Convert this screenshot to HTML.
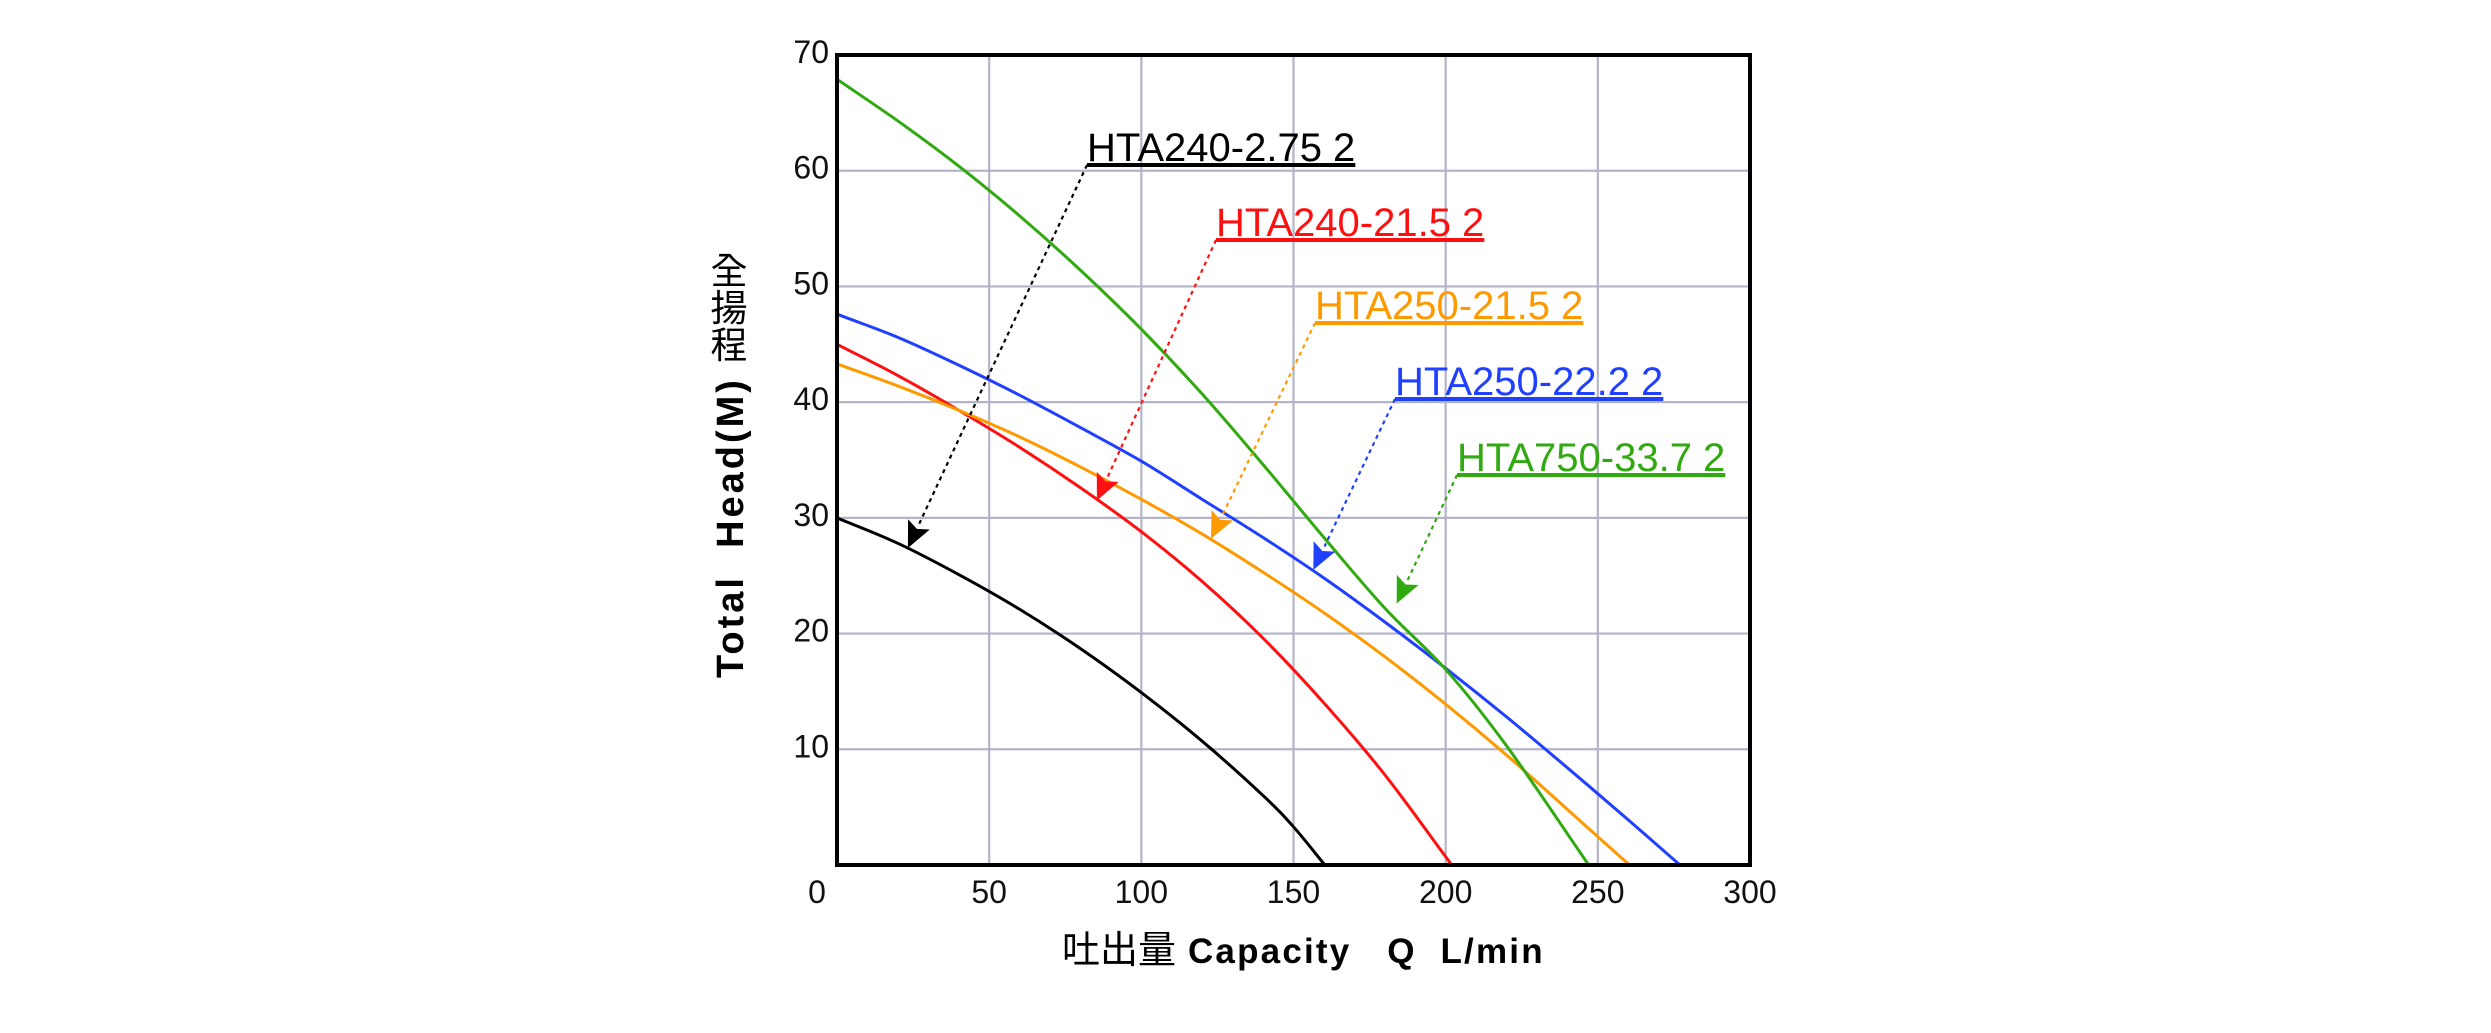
<!DOCTYPE html>
<html><head><meta charset="utf-8"><style>
html,body{margin:0;padding:0;background:#fff;}
svg{display:block;}
text{font-family:"Liberation Sans","Noto Sans CJK TC",sans-serif;}
</style></head><body>
<svg id="chart" width="2491" height="1033" viewBox="0 0 2491 1033" xmlns="http://www.w3.org/2000/svg">
<g id="grid"></g>
<g id="curves"></g>
<g id="labels"></g>
<rect x="837" y="55" width="913" height="810" fill="none" stroke="#000" stroke-width="4"/>
<g id="ticks"></g>
<text x="743" y="678" transform="rotate(-90 743 678)" font-size="38" font-weight="bold" letter-spacing="3" fill="#000" xml:space="preserve">Total  Head(M)</text>
<g font-family="'Noto Sans CJK TC',sans-serif" font-size="37" text-anchor="middle" fill="#000">
<text x="729" y="284">全</text><text x="729" y="321">揚</text><text x="729" y="358">程</text>
</g>
<text x="1062" y="963" font-size="35" fill="#000" xml:space="preserve"><tspan font-family="'Noto Sans CJK TC',sans-serif" font-size="38">吐出量</tspan><tspan font-weight="bold" letter-spacing="2.2"> Capacity   Q  L/min</tspan></text>
</svg>
<script>
const xTicks=[0,50,100,150,200,250,300];
const yTicks=[10,20,30,40,50,60,70];
const seriesNames=["HTA240-2.75 2","HTA240-21.5 2","HTA250-21.5 2","HTA250-22.2 2","HTA750-33.7 2"];
const blackQ=[0,20,40,60,80,100,120,140,150,160.3];
const blackH=[30,27.8,25.1,22.1,18.7,14.9,10.7,6.0,3.3,0];
const redQ=[0,20,40,60,80,100,120,140,160,180,202];
const redH=[45,42.3,39.3,36.1,32.6,28.8,24.5,19.6,14,7.8,0];
const orangeQ=[0,20,40,60,80,100,120,140,160,180,200,220,240,260.4];
const orangeH=[43.3,41.4,39.3,37,34.4,31.6,28.6,25.3,21.8,18,13.9,9.5,4.8,0];
const blueQ=[0,20,40,60,80,100,120,140,160,180,200,220,240,260,277];
const blueH=[47.6,45.6,43.2,40.6,37.8,34.9,31.6,28.3,24.8,21,17,12.8,8.4,3.9,0];
const greenQ=[0,20,40,60,80,100,120,140,160,180,200,220,247];
const greenH=[67.9,64.3,60.4,56.1,51.4,46.3,40.7,34.6,28.3,22.2,16.9,10.3,0];
// arrow target points on each curve (Q, H)
const arrowQ=[23.3,85.4,122.9,156.5,183.9];
const arrowH=[27.4,31.5,28.2,25.5,22.6];
const X0=837,X1=1750,Y0=865,Y1=55;
const sx=q=>X0+(X1-X0)*q/300;
const sy=h=>Y0-(Y0-Y1)*h/70;
const NS="http://www.w3.org/2000/svg";
function mk(t,a,p){const e=document.createElementNS(NS,t);for(const k in a)e.setAttribute(k,a[k]);p.appendChild(e);return e;}
const grid=document.getElementById('grid'),ticks=document.getElementById('ticks');
xTicks.forEach(q=>{if(q>0&&q<300){const l=mk('line',{x1:sx(q),x2:sx(q),y1:Y1,y2:Y0,stroke:'#b4b4c8','stroke-width':2.2},grid);

}
const t=mk('text',{x:q===0?817:sx(q),y:903,'font-size':32,'text-anchor':'middle',fill:'#111'},ticks);t.textContent=q;

});
yTicks.forEach(h=>{if(h<70){const l=mk('line',{x1:X0,x2:X1,y1:sy(h),y2:sy(h),stroke:'#b4b4c8','stroke-width':2.2},grid);

}
const t=mk('text',{x:829,y:sy(h)+8,'font-size':32,'text-anchor':'end',fill:'#111'},ticks);t.textContent=h;

});
function pathD(Q,H){const p=Q.map((q,i)=>[sx(q),sy(H[i])]);let d='M'+p[0][0]+','+p[0][1];
for(let i=0;i<p.length-1;i++){const b=p[i],c=p[i+1];
const a=i>0?p[i-1]:[2*b[0]-c[0],2*b[1]-c[1]];
const e=i+2<p.length?p[i+2]:[2*c[0]-b[0],2*c[1]-b[1]];
d+=' C'+(b[0]+(c[0]-a[0])/6)+','+(b[1]+(c[1]-a[1])/6)+' '+(c[0]-(e[0]-b[0])/6)+','+(c[1]-(e[1]-b[1])/6)+' '+c[0]+','+c[1];}return d;}
const colors=['#000000','#ff1010','#ff9900','#2040ff','#30aa10'];
const data=[[blackQ,blackH],[redQ,redH],[orangeQ,orangeH],[blueQ,blueH],[greenQ,greenH]];
const curves=document.getElementById('curves'),labels=document.getElementById('labels');
const labelPos=[[1087,161],[1216,236],[1315,319],[1395,395],[1457,471]];
const slugs=['hta240-2-75','hta240-21-5','hta250-21-5','hta250-22-2','hta750-33-7'];
data.forEach((s,i)=>{const p=mk('path',{d:pathD(s[0],s[1]),fill:'none',stroke:colors[i],'stroke-width':3},curves);


const [lx,ly]=labelPos[i];
const t=mk('text',{x:lx,y:ly,'font-size':40,fill:colors[i],'text-decoration':'underline'},labels);t.textContent=seriesNames[i];


const tx=sx(arrowQ[i]),ty=sy(arrowH[i]);const x0=lx,y0=ly+4;
const dx=tx-x0,dy=ty-y0,L=Math.hypot(dx,dy),ux=dx/L,uy=dy/L;const hl=26,hw=12;
const bx=tx-ux*hl,by=ty-uy*hl;
const ln=mk('line',{x1:x0,y1:y0,x2:bx,y2:by,stroke:colors[i],'stroke-width':2.2,'stroke-dasharray':'4 4'},labels);


const ah=mk('polygon',{points:tx+','+ty+' '+(bx-uy*hw)+','+(by+ux*hw)+' '+(bx+ux*5)+','+(by+uy*5)+' '+(bx+uy*hw)+','+(by-ux*hw),fill:colors[i]},labels);

});
</script>
</body></html>
